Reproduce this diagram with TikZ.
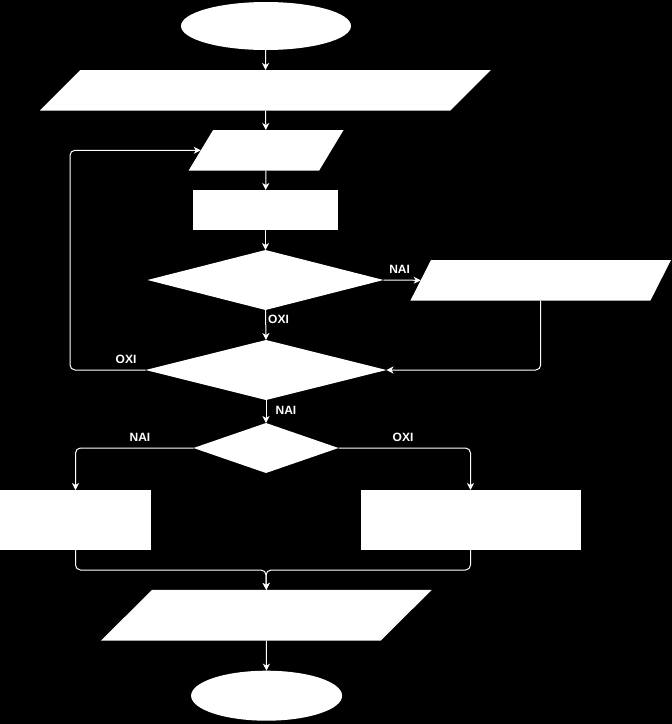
\documentclass[tikz,border=0pt]{standalone}
\usepackage{fontspec}
\setsansfont{Liberation Sans}
\usetikzlibrary{arrows.meta, positioning, shapes.geometric}
\definecolor{fcbg}{HTML}{000000}
\definecolor{fcfill}{HTML}{FFFFFF}
\definecolor{fcline}{HTML}{FFFFFF}
\tikzset{
  fcterm/.style = {ellipse, fill=fcfill, inner sep=0pt, outer sep=0pt,
                    minimum width=170pt, minimum height=48pt},
  fcio/.style   = {rectangle, inner sep=0pt, outer sep=0pt, minimum height=40pt},
  fcproc/.style = {rectangle, fill=fcfill, inner sep=0pt, outer sep=0pt,
                    minimum height=60pt},
  fcdec/.style  = {diamond, fill=fcfill, inner sep=0pt, outer sep=0pt},
  fcflow/.style = {draw=fcline, line width=1pt, rounded corners=5pt,
                    -{Stealth[length=7pt, width=7pt, inset=2pt]}},
  fclbl/.style  = {font=\sffamily\bfseries\fontsize{12}{14}\selectfont,
                    text=fcline, inner sep=0pt},
}
% parallelogram: name, x, y, width, height, slant
\newcommand{\fcpar}[6]{%
  \node[fcio, minimum width=#4, minimum height=#5] (#1) at (#2,#3) {};
  \fill[fcfill] ([xshift=#6]#1.north west) -- (#1.north east)
     -- ([xshift=-#6]#1.south east) -- (#1.south west) -- cycle;
}

\begin{document}
\begin{tikzpicture}[x=1pt, y=-1pt]
    \fill[fcbg] (0,0) rectangle (672,724);

    \node[fcterm] (start) at (266,26) {};
    \fcpar{readall}{265.3}{90.3}{451pt}{40.6pt}{40.6pt}
    \fcpar{readone}{266.1}{150.3}{155pt}{40.6pt}{24.5pt}
    \node[fcproc, minimum width=145pt, minimum height=40pt] (calc) at (265.5,210) {};
    \node[fcdec, minimum width=236pt, minimum height=60pt] (check) at (265.5,280) {};
    \fcpar{warn}{540.7}{280.3}{260.6pt}{40.6pt}{20.6pt}
    \node[fcdec, minimum width=241pt, minimum height=60pt] (more) at (266,370) {};
    \node[fcdec, minimum width=145pt, minimum height=50pt] (choose) at (266,448) {};
    \node[fcproc, minimum width=151pt] (left) at (75.5,520) {};
    \node[fcproc, minimum width=220pt] (right) at (470.5,520) {};
    \fcpar{write}{266.3}{615.3}{330.7pt}{50.7pt}{51pt}
    \node[fcterm, minimum width=151pt, minimum height=50pt] (stop) at (266.6,695.7) {};

    \coordinate (loopx) at (70,0);
    \coordinate (mrg) at (266,570);

    \draw[fcflow] (start) -- (readall);
    \draw[fcflow] (readall) -- (readone);
    \draw[fcflow] (readone) -- (calc);
    \draw[fcflow] (calc) -- (check);
    \draw[fcflow] (check.east) -- ([xshift=10.3pt]warn.west);
    \draw[fcflow] (check.south) -- (more.north);
    \draw[fcflow] (warn.south) |- (more.east);
    \draw[fcflow] (more.west) -- (more.west -| loopx) |- ([xshift=12.2pt]readone.west);
    \draw[fcflow] (more.south) -- (choose.north);
    \draw[fcflow] (choose.west) -| (left.north);
    \draw[fcflow] (choose.east) -| (right.north);
    \draw[fcflow] (left.south) |- (mrg) -- (write.north);
    \draw[fcflow] (right.south) |- (mrg) -- (write.north);
    \draw[fcflow] (write) -- (stop);

    \node[fclbl] (nai1) at (399.6,269.5) {NAI};
    \node[fclbl] (oxi1) at (278.5,319) {OXI};
    \node[fclbl] (oxi2) at (126,359) {OXI};
    \node[fclbl] (nai2) at (286,410) {NAI};
    \node[fclbl] (nai3) at (140,437) {NAI};
    \node[fclbl] (oxi3) at (403,437) {OXI};
\end{tikzpicture}
\end{document}
